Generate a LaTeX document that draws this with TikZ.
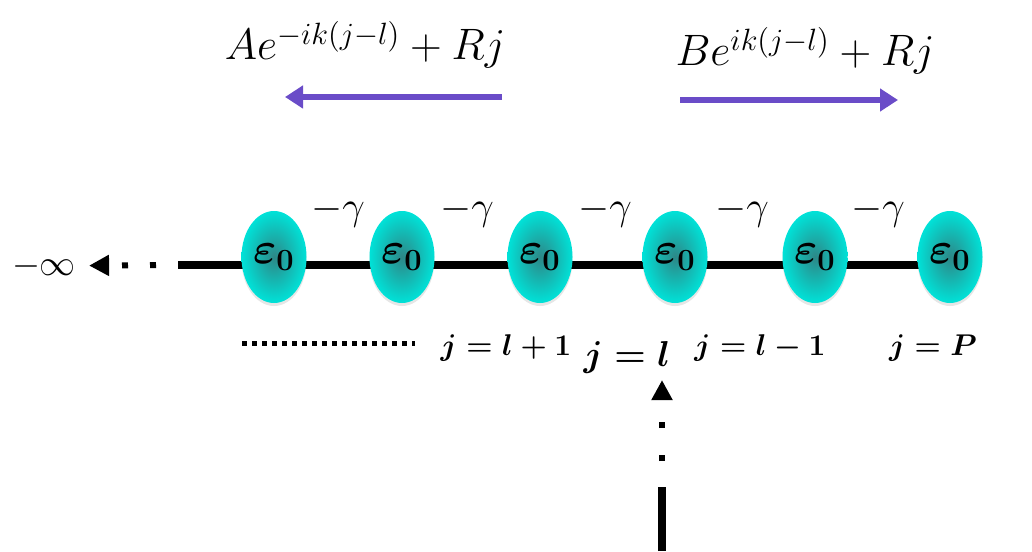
\RequirePackage{fix-cm}
\documentclass[tikz,border=0pt]{standalone}
\usetikzlibrary{shapes.geometric,shadows,arrows.meta,backgrounds}
\definecolor{arrowpurple}{RGB}{106,76,200}
\definecolor{cyanout}{RGB}{0,226,216}
\definecolor{cyanin}{RGB}{45,135,135}
\begin{document}
\begin{tikzpicture}[x=0.5pt,y=-0.5pt,
  site/.style={ellipse, minimum width=32.5pt, minimum height=46pt, inner sep=0pt,
    inner color=cyanin, outer color=cyanout,
    drop shadow={shadow xshift=0pt, shadow yshift=-1.5pt, opacity=0.2},
    font=\fontsize{22}{26}\selectfont\boldmath},
  hop/.style={font=\fontsize{20}{24}\selectfont},
  idx/.style={font=\fontsize{15}{18}\selectfont\boldmath, anchor=base},
  wave/.style={font=\fontsize{22}{26}\selectfont, anchor=base},
  chain/.style={line width=4pt, black},
  flow/.style={line width=3pt, arrowpurple, -{Triangle[length=9pt,width=11pt]}},
  dotarrow/.style={line width=3pt, black, -{Triangle[length=10pt,width=10pt]}},
  rowdots/.style={line width=2.5pt, black, dash pattern=on 2.5pt off 2.5pt}]
\useasboundingbox (0,0) rectangle (1032,551);

% top labels and arrows
\node[wave] (wl) at (365,60) {$Ae^{-ik(j-l)}+Rj$};
\node[wave] (wr) at (805,66) {$Be^{ik(j-l)}+Rj$};
\coordinate (la) at (502,97);
\coordinate (lb) at (285,97);
\coordinate (ra) at (680,100);
\coordinate (rb) at (898,100);
\draw[flow] (la) -- (lb);
\draw[flow] (ra) -- (rb);

% sites
\node[site] (e1) at (274,257) {$\varepsilon_0$};
\node[site] (e2) at (402,257) {$\varepsilon_0$};
\node[site] (e3) at (540,257) {$\varepsilon_0$};
\node[site] (e4) at (675,257) {$\varepsilon_0$};
\node[site] (e5) at (815,257) {$\varepsilon_0$};
\node[site] (e6) at (950,257) {$\varepsilon_0$};

\coordinate (lstart) at (178,265);
\begin{scope}[on background layer]
\draw[chain] (lstart) -- ([yshift=-4pt]e1.center) -- ([yshift=-4pt]e2.center)
  -- ([yshift=-4pt]e3.center) -- ([yshift=-4pt]e4.center)
  -- ([yshift=-4pt]e5.center) -- ([yshift=-4pt]e6.center);
\end{scope}

% hopping labels
\node[hop] (g1) at (338,212) {$-\gamma$};
\node[hop] (g2) at (467,212) {$-\gamma$};
\node[hop] (g3) at (605,212) {$-\gamma$};
\node[hop] (g4) at (742,212) {$-\gamma$};
\node[hop] (g5) at (878,212) {$-\gamma$};

% left infinity
\node[font=\fontsize{18}{22}\selectfont] (minf) at (44,266) {$-\infty$};
\coordinate (dstart) at (156,265);
\draw[dotarrow, dash pattern=on 3pt off 11pt, shorten >=3pt] (dstart) -- (minf);

% dotted row
\coordinate (da) at (242,343);
\coordinate (db) at (415,343);
\draw[rowdots] (da) -- (db);

% index labels
\node[idx] (j1) at (506,355) {$j=l+1$};
\node[idx, font=\fontsize{18}{22}\selectfont\boldmath] (jl) at (627,366) {$j=l$};
\node[idx] (j3) at (760,355) {$j=l-1$};
\node[idx] (j4) at (933,355) {$j=P$};

% vertical arrow
\coordinate (vb) at (662,551);
\coordinate (vm) at (662,487);
\coordinate (vd) at (662,461);
\draw[chain] (vb) -- (vm);
\draw[dotarrow, dash pattern=on 3pt off 13.5pt] (vd) -- (vd |- jl.south);
\end{tikzpicture}
\end{document}
